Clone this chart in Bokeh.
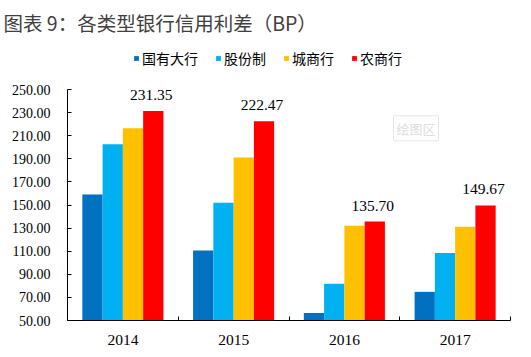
from bokeh.plotting import figure
from bokeh.models import (ColumnDataSource, FixedTicker, NumeralTickFormatter,
                          Legend, LegendItem, LabelSet, Label, Range1d, LinearAxis)
from bokeh.embed import file_html
from bokeh.resources import INLINE

# ---- data ----
years = ["2014", "2015", "2016", "2017"]
series_names = ["国有大行", "股份制", "城商行", "农商行"]
state_owned = [159.0, 110.5, 56.5, 74.8]
joint_stock = [202.5, 152.0, 81.8, 108.5]
city_comm = [216.5, 191.2, 132.0, 131.2]
rural_comm = [231.35, 222.47, 135.70, 149.67]
y_ticks = [50, 70, 90, 110, 130, 150, 170, 190, 210, 230, 250]
colors = ["#0070C0", "#00B0F0", "#FFC000", "#FF0000"]
title_text = "图表 9：各类型银行信用利差（BP）"
watermark_text = "绘图区"

series = [state_owned, joint_stock, city_comm, rural_comm]

W, H = 531, 357
BAR_W = 0.183
SERIF = "Liberation Serif"
CJK = "Noto Sans CJK SC"

# plot area geometry (pixels inside the canvas)
LEFT, RIGHT, TOP, BOTTOM = 67, 510, 89, 320
px_x = (RIGHT - LEFT) / len(years)
px_y = (BOTTOM - TOP) / (y_ticks[-1] - y_ticks[0])
x_start = -LEFT / px_x
x_end = len(years) + (W - RIGHT) / px_x
y_start = y_ticks[0] - (H - BOTTOM) / px_y
y_end = y_ticks[-1] + TOP / px_y

p = figure(width=W, height=H, output_backend="svg", toolbar_location=None,
           x_range=Range1d(x_start, x_end), y_range=Range1d(y_start, y_end),
           x_axis_location=None, y_axis_location=None,
           min_border=0, min_border_left=0, min_border_right=0,
           min_border_top=0, min_border_bottom=0)
p.outline_line_color = None
p.xgrid.visible = False
p.ygrid.visible = False
p.background_fill_color = "white"
p.border_fill_color = "white"

renderers = []
for k, (vals, col) in enumerate(zip(series, colors)):
    xs = [i + 0.5 + (k - 1.5) * BAR_W for i in range(len(years))]
    src = ColumnDataSource(dict(x=xs, top=vals))
    r = p.vbar(x="x", top="top", bottom=y_ticks[0], width=BAR_W, source=src,
               fill_color=col, line_color=None)
    renderers.append(r)

# data labels on 农商行
lab_src = ColumnDataSource(dict(
    x=[i + 0.5 + 1.5 * BAR_W for i in range(len(years))],
    y=rural_comm,
    text=[f"{v:.2f}" for v in rural_comm]))
p.add_layout(LabelSet(x="x", y="y", text="text", source=lab_src,
                      text_font=SERIF, text_font_size="15.5px", text_color="black",
                      text_align="center", text_baseline="alphabetic",
                      y_offset=11, x_offset=-2))

# x axis
xaxis = LinearAxis(fixed_location=y_ticks[0], bounds=(0, len(years)))
xaxis.ticker = FixedTicker(ticks=[i + 0.5 for i in range(len(years))],
                           minor_ticks=list(range(len(years) + 1)))
xaxis.major_label_overrides = {i + 0.5: y for i, y in enumerate(years)}
xaxis.major_tick_line_color = None
xaxis.minor_tick_line_color = "black"
xaxis.minor_tick_in = 4
xaxis.minor_tick_out = 0
xaxis.axis_line_color = "black"
xaxis.major_label_text_font = SERIF
xaxis.major_label_text_font_size = "15.5px"
xaxis.major_label_text_color = "black"
xaxis.major_label_standoff = 8
p.add_layout(xaxis, "below")

# y axis
yaxis = LinearAxis(fixed_location=0, bounds=(y_ticks[0], y_ticks[-1]))
yaxis.ticker = FixedTicker(ticks=y_ticks)
yaxis.formatter = NumeralTickFormatter(format="0.00")
yaxis.major_tick_in = 4
yaxis.major_tick_out = 0
yaxis.minor_tick_line_color = None
yaxis.axis_line_color = "black"
yaxis.major_tick_line_color = "black"
yaxis.major_label_text_font = SERIF
yaxis.major_label_text_font_size = "14px"
yaxis.major_label_text_color = "black"
yaxis.major_label_standoff = 17
p.add_layout(yaxis, "left")

# legend
items = [LegendItem(label=n, renderers=[r]) for n, r in zip(series_names, renderers)]
legend = Legend(items=items, orientation="horizontal", location=(133, 289),
                glyph_width=6, glyph_height=6, label_height=14,
                label_text_font=CJK, label_text_font_size="14px",
                label_text_color="black", spacing=17, label_standoff=3,
                padding=0, margin=0, border_line_color=None,
                background_fill_alpha=0)
p.add_layout(legend)

# title
p.add_layout(Label(x=x_start + 3 / px_x, y=y_end - 22 / px_y, text=title_text,
                   text_font=CJK, text_font_size="19.5px", text_color="#404040",
                   text_align="left", text_baseline="middle"))

# faint plot-area watermark
p.add_layout(Label(x=3.147, y=216.4, text=watermark_text, text_font=CJK,
                   text_font_size="13px", text_color="#dddddd",
                   text_align="center", text_baseline="middle",
                   border_line_color="#e6e6e6", background_fill_color="white",
                   padding=3))

open("out.html", "w").write(file_html(p, INLINE))
